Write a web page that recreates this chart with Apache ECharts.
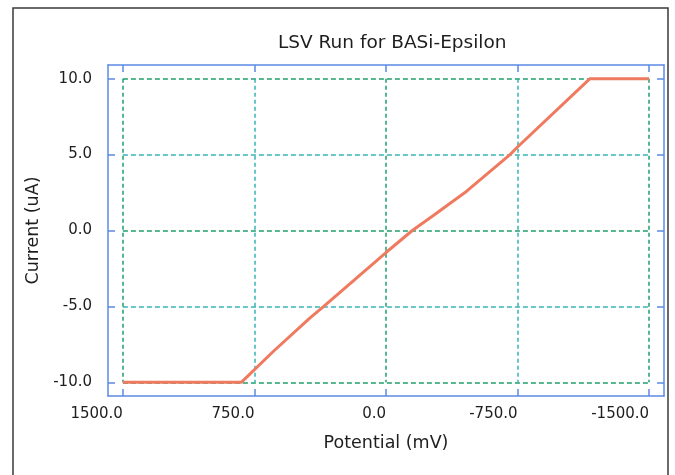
<!DOCTYPE html>
<html>
<head>
<meta charset="utf-8">
<title>LSV Run for BASi-Epsilon</title>
<script src="https://cdn.jsdelivr.net/npm/echarts@6/dist/echarts.min.js"></script>
<style>
  html, body { margin: 0; padding: 0; background: #fff; }
  #chart { width: 675px; height: 475px; }
</style>
</head>
<body>
<div id="chart"></div>
<script>
// values: potential (mV), current (uA)
const potential = [1500, 825, 643, 433, 355, 0, -150, -270, -460, -707, -750, -1163, -1500];
const current = [-10, -10, -7.97, -5.76, -5, -1.45, 0, 0.99, 2.59, 5, 5.5, 10, 10];
const xTicks = [-1500, -750, 0, 750, 1500];
const yTicks = [-10, -5, 0, 5, 10];

const font = 'DejaVu Sans';
const frameBlue = '#5b8be4';
const gridColors = ['#1f9e6c', '#3ab3b6'];

const points = potential.map((p, i) => [p, current[i]]);

// outer frame axes (ticks on all four sides, gnuplot style)
function frameAxis(pos, isX, showLabel) {
  const ticks = isX ? xTicks : yTicks;
  return {
    type: 'value',
    gridIndex: 0,
    position: pos,
    min: isX ? -1585 : -10.9,
    max: isX ? 1585 : 10.9,
    inverse: isX,
    axisLine: { show: true, onZero: false, lineStyle: { color: frameBlue, width: 1.5 } },
    axisTick: { show: true, inside: true, length: 7, customValues: ticks,
      lineStyle: { color: frameBlue, width: 1.5 } },
    axisLabel: { show: showLabel, customValues: ticks,
      formatter: v => v.toFixed(1),
      fontFamily: font, fontSize: 15, color: '#1e1e1e',
      margin: isX ? 11 : 16, align: 'right' },
    splitLine: { show: false }
  };
}

const chart = echarts.init(document.getElementById('chart'));
chart.setOption({
  animation: false,
  title: {
    text: 'LSV Run for BASi-Epsilon',
    left: 273, top: 29,
    textStyle: { fontFamily: font, fontSize: 18.5, fontWeight: 'normal', color: '#1e1e1e' }
  },
  graphic: [{
    type: 'rect',
    shape: { x: 13, y: 8, width: 655, height: 480 },
    style: { fill: 'none', stroke: '#3a3a3a', lineWidth: 1.5 },
    silent: true
  }],
  grid: [
    { left: 108, right: 11, top: 65, bottom: 79 },
    { left: 122.9, right: 25.9, top: 78.7, bottom: 92.7 }
  ],
  xAxis: [
    Object.assign(frameAxis('bottom', true, true), {
      name: 'Potential (mV)', nameLocation: 'middle', nameGap: 38,
      nameTextStyle: { fontFamily: font, fontSize: 17.5, color: '#1e1e1e' }
    }),
    frameAxis('top', true, false),
    {
      type: 'value', gridIndex: 1, min: -1500, max: 1500, interval: 750, inverse: true,
      axisLine: { show: false }, axisTick: { show: false }, axisLabel: { show: false },
      splitLine: { show: true, lineStyle: { color: gridColors, type: [4, 3], width: 1.5 } }
    }
  ],
  yAxis: [
    Object.assign(frameAxis('left', false, true), {
      name: 'Current (uA)', nameLocation: 'middle', nameGap: 66,
      nameTextStyle: { fontFamily: font, fontSize: 17.5, color: '#1e1e1e' }
    }),
    frameAxis('right', false, false),
    {
      type: 'value', gridIndex: 1, min: -10, max: 10, interval: 5,
      axisLine: { show: false }, axisTick: { show: false }, axisLabel: { show: false },
      splitLine: { show: true, lineStyle: { color: gridColors, type: [5, 3], width: 1.5 } }
    }
  ],
  series: [{
    type: 'line',
    xAxisIndex: 0,
    yAxisIndex: 0,
    data: points,
    showSymbol: false,
    lineStyle: { color: '#f07a5f', width: 3 },
    z: 5
  }]
});
</script>
</body>
</html>
